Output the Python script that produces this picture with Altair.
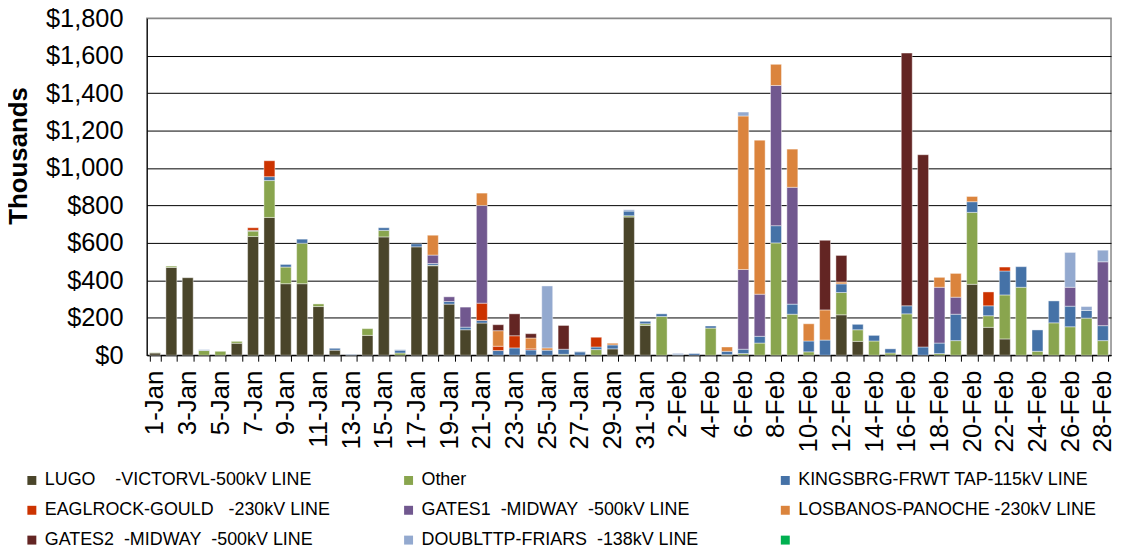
import altair as alt
import pandas as pd

days = [f"{d}-Jan" for d in range(1, 32)] + [f"{d}-Feb" for d in range(1, 29)]

NB = "\u00a0"
series_names = [
    "LUGO" + NB * 4 + "-VICTORVL-500kV LINE",
    "Other",
    "KINGSBRG-FRWT TAP-115kV LINE",
    "EAGLROCK-GOULD" + NB * 3 + "-230kV LINE",
    "GATES1" + NB * 2 + "-MIDWAY" + NB * 2 + "-500kV LINE",
    "LOSBANOS-PANOCHE -230kV LINE",
    "GATES2" + NB * 2 + "-MIDWAY" + NB * 2 + "-500kV LINE",
    "DOUBLTTP-FRIARS" + NB * 2 + "-138kV LINE",
    " ",
]
colors = ["#4A452A", "#89A54E", "#4572A7", "#CC3300", "#71588F",
          "#DB843D", "#632523", "#93A9CF", "#00B050"]

# values in thousands of $
lugo = [12,469,414,0,0,64,634,736,382,382,260,27,0,106,632,0,579,478,273,136,172,0,0,0,0,0,0,0,34,738,159] + \
       [0,0,0,0,0,0,0,0,0,0,0,216,74,0,0,0,0,0,0,379,149,87,0,0,0,0,0,0]
other = [2,7,0,25,21,10,29,197,89,216,14,0,0,36,35,12,0,3,0,0,0,0,0,0,0,5,0,30,0,7,9] + \
        [207,0,0,145,3,9,65,600,219,18,0,119,62,76,12,221,0,9,78,384,62,235,363,21,173,152,198,78]
kingsbrg = [0,0,0,0,0,0,4,21,14,22,0,10,3,0,14,15,16,9,14,14,14,25,39,28,27,27,18,14,21,25,13] + \
           [14,5,9,11,18,23,36,92,54,58,81,46,29,30,22,43,44,56,141,57,53,128,110,114,117,110,41,80]
eaglrock = [0,0,0,0,0,0,14,85,0,0,0,0,0,0,0,0,0,0,0,0,92,23,65,6,0,0,0,52,0,0,0] + \
           [0,0,0,0,0,0,0,0,0,0,0,0,0,0,0,0,0,0,0,0,74,21,0,0,0,0,0,0]
gates1 = [0,0,0,0,0,0,0,0,0,0,0,0,0,0,0,0,0,45,25,107,522,0,0,0,0,0,0,0,0,0,0] + \
         [0,0,0,0,0,426,225,749,624,0,0,0,0,0,0,0,0,298,91,0,0,0,0,0,0,101,0,341]
losbanos = [0,0,0,0,0,0,0,0,0,0,0,0,0,0,0,0,0,106,0,0,66,83,0,58,12,0,0,0,9,0,0] + \
           [0,0,0,0,23,820,823,113,204,92,161,10,0,0,0,0,0,53,127,28,0,0,0,0,0,0,0,0]
gates2 = [0,0,0,0,0,0,0,0,0,0,0,0,0,0,0,0,0,0,0,0,0,32,117,23,0,127,0,0,0,0,0] + \
         [0,0,0,0,0,0,0,0,0,0,372,142,0,0,0,1350,1027,0,0,0,0,0,0,0,0,0,0,0]
doubltp = [0,0,0,5,0,0,0,0,0,0,0,0,0,0,0,3,0,0,0,0,0,0,0,0,331,0,3,0,0,7,0] + \
          [0,5,0,0,0,21,0,0,0,0,0,0,0,0,0,0,0,0,0,0,0,0,0,0,0,186,21,62]

all_series = [lugo, other, kingsbrg, eaglrock, gates1, losbanos, gates2, doubltp]

rows = []
for k, vals in enumerate(all_series):
    for i, v in enumerate(vals):
        if v > 0:
            rows.append({"day": days[i], "series": series_names[k], "ord": k, "value": v})
df = pd.DataFrame(rows)

FONT = "Liberation Sans"

label_expr = ("indexof(datum.label,'Jan') > 0 ? (parseInt(datum.label) % 2 == 1 ? datum.label : '') "
              ": (parseInt(datum.label) % 2 == 0 ? datum.label : '')")

chart = alt.Chart(df).mark_bar(stroke="white", strokeWidth=0.6, strokeOpacity=0.7).encode(
    x=alt.X("day:N", sort=days,
            scale=alt.Scale(paddingInner=0.33, paddingOuter=0.165),
            axis=alt.Axis(title=None, labelAngle=270, labelAlign="right", labelBaseline="middle",
                          labelFont=FONT, labelFontSize=26, labelColor="black",
                          labelExpr=label_expr, labelOverlap=False, labelPadding=9,
                          tickBand="extent", tickSize=6, tickColor="black", tickWidth=1,
                          domainColor="black", domainWidth=1, grid=False)),
    y=alt.Y("value:Q", stack="zero",
            scale=alt.Scale(domain=[0, 1800], nice=False),
            axis=alt.Axis(title="Thousands", titleFont=FONT, titleFontSize=26, titleFontWeight="bold",
                          titleColor="black", titleAngle=270, titleX=-129.5, titleY=138,
                          titleAlign="center", titleBaseline="middle",
                          values=list(range(0, 1801, 200)), format="$,.0f",
                          labelFont=FONT, labelFontSize=25.5, labelColor="black", labelPadding=24,
                          labelFlush=False, ticks=False,
                          domainColor="black", domainWidth=1,
                          grid=True, gridWidth=1,
                          gridColor={"condition": {"test": "datum.value == 1800", "value": "#888888"},
                                     "value": "black"})),
    color=alt.Color("series:N", scale=alt.Scale(domain=series_names, range=colors),
                    legend=alt.Legend(orient="none", legendX=-124.7, legendY=456, columns=3,
                                      direction="horizontal",
                                      gridAlign="all", columnPadding=57, rowPadding=12,
                                      title=None, padding=0, symbolType="square", symbolSize=81,
                                      symbolStrokeWidth=0, symbolOpacity=1, labelFont=FONT,
                                      labelFontSize=18, labelColor="black", labelLimit=600,
                                      labelOffset=4)),
    order=alt.Order("ord:Q", sort="ascending"),
).properties(
    width=970, height=339,
    autosize=alt.AutoSizeParams(type="none"),
    padding={"left": 139.7, "top": 8.7, "right": 3, "bottom": 190},
).configure_view(stroke="#888888", strokeWidth=1.5)

chart.save("out.html", embed_options={"renderer": "svg", "actions": False})
